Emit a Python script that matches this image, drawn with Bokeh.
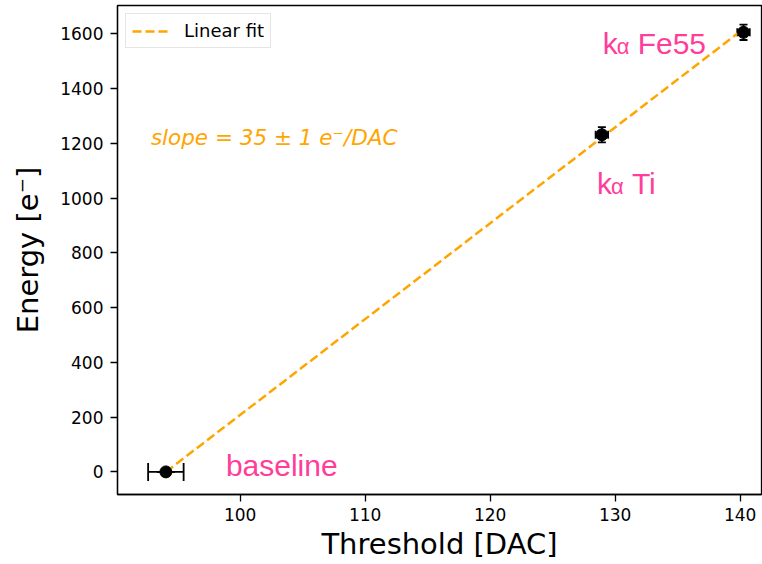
from bokeh.plotting import figure
from bokeh.models import Whisker, ColumnDataSource, Range1d, Legend, LegendItem, Label
from bokeh.core.properties import value
from bokeh.embed import file_html
from bokeh.resources import INLINE

# data
point_names = ["baseline", "Ti", "Fe55"]
threshold = [94.06, 128.94, 140.27]
threshold_err = [1.42, 0.5, 0.5]
energy = [0.0, 1231.0, 1605.0]
energy_err = [0.0, 28.0, 28.0]
slope = 35.0
fit_x = [94.06, 140.27]
x_ticks = [100, 110, 120, 130, 140]
y_ticks = [0, 200, 400, 600, 800, 1000, 1200, 1400, 1600]

PINK = "#ff3d9a"
ORANGE = "#ffa500"

p = figure(width=762, height=564, output_backend="svg", toolbar_location=None,
           x_range=Range1d(90.19, 141.71), y_range=Range1d(-82.5, 1703),
           min_border_left=117, min_border_right=1, min_border_top=5, min_border_bottom=70)
p.background_fill_color = "white"
p.border_fill_color = "white"
p.outline_line_color = "black"
p.outline_line_width = 1.3
p.grid.visible = False

for ax in (p.xaxis[0], p.yaxis[0]):
    ax.major_tick_out = 7
    ax.major_tick_in = 0
    ax.minor_tick_out = 0
    ax.minor_tick_in = 0
    ax.major_label_text_font = "DejaVu Sans"
    ax.major_label_text_font_size = "17px"
    ax.major_label_text_color = "black"
    ax.axis_label_text_font = "DejaVu Sans"
    ax.axis_label_text_font_size = "29px"
    ax.axis_label_text_font_style = "normal"
    ax.axis_label_text_color = "black"
    ax.axis_line_color = "black"
    ax.axis_line_width = 1.3
    ax.major_tick_line_color = "black"
    ax.major_tick_line_width = 1.3
p.xaxis.ticker = x_ticks
p.yaxis.ticker = y_ticks
p.xaxis.axis_label = "Threshold [DAC]"
p.yaxis.axis_label = "Energy [e\u207b]"
p.xaxis.major_label_standoff = 6
p.yaxis.major_label_standoff = 7
p.xaxis.axis_label_standoff = 3
p.yaxis.axis_label_standoff = 12

# fit line
intercept = -slope * fit_x[0]
fit_y = [slope * x + intercept for x in fit_x]
fit = p.line(fit_x, fit_y, line_color=ORANGE, line_width=2.5, line_dash="9 4")

def errbars(idx, cap):
    src = ColumnDataSource(dict(
        x=[threshold[i] for i in idx], y=[energy[i] for i in idx],
        xl=[threshold[i] - threshold_err[i] for i in idx],
        xu=[threshold[i] + threshold_err[i] for i in idx],
        yl=[energy[i] - energy_err[i] for i in idx],
        yu=[energy[i] + energy_err[i] for i in idx],
    ))
    wx = Whisker(source=src, base="y", lower="xl", upper="xu", dimension="width",
                 line_color="black", line_width=1.8)
    wy = Whisker(source=src, base="x", lower="yl", upper="yu", dimension="height",
                 line_color="black", line_width=1.8)
    for w in (wx, wy):
        for h in (w.upper_head, w.lower_head):
            h.size = cap
            h.line_width = 1.8
            h.line_color = "black"
        p.add_layout(w)
    p.scatter("x", "y", source=src, size=12, fill_color="black", line_color="black")

errbars([0], 18)
errbars([1, 2], 8)

# labels
FONT = value("Liberation Sans")
DY = -10
def klabel(x, y, rest):
    p.text([x], [y], text=["k"], text_font=FONT, text_font_size="30px",
           text_color=PINK, text_baseline="alphabetic", text_align="left", y_offset=DY)
    p.text([x], [y], text=["\u03b1"], text_font=FONT, text_font_size="22px",
           text_color=PINK, text_baseline="alphabetic", text_align="left", x_offset=14, y_offset=DY + 3)
    p.text([x], [y], text=[rest], text_font=FONT, text_font_size="30px",
           text_color=PINK, text_baseline="alphabetic", text_align="left", x_offset=35, y_offset=DY)

klabel(129.0, 1526, "Fe55")
klabel(128.54, 1015, "Ti")
p.text([98.86], [-13], text=["baseline"], text_font=FONT, text_font_size="30px",
       text_color=PINK, text_baseline="alphabetic", text_align="left", y_offset=DY)

p.add_layout(Label(x=92.86, y=1197, text="slope = 35 \u00b1 1 e\u207b/DAC", y_offset=7,
                   text_font="DejaVu Sans", text_font_size="21.5px", text_font_style="italic",
                   text_color=ORANGE, text_baseline="alphabetic"))

legend = Legend(items=[LegendItem(label="Linear fit", renderers=[fit])],
                location="top_left", label_text_font="DejaVu Sans", label_text_font_size="18px",
                label_text_color="black",
                border_line_color="#cccccc", border_line_width=1.5, padding=6, spacing=0,
                margin=8, glyph_width=37, glyph_height=20, label_height=20, label_standoff=15)
p.add_layout(legend)

open("out.html", "w").write(file_html(p, INLINE))
